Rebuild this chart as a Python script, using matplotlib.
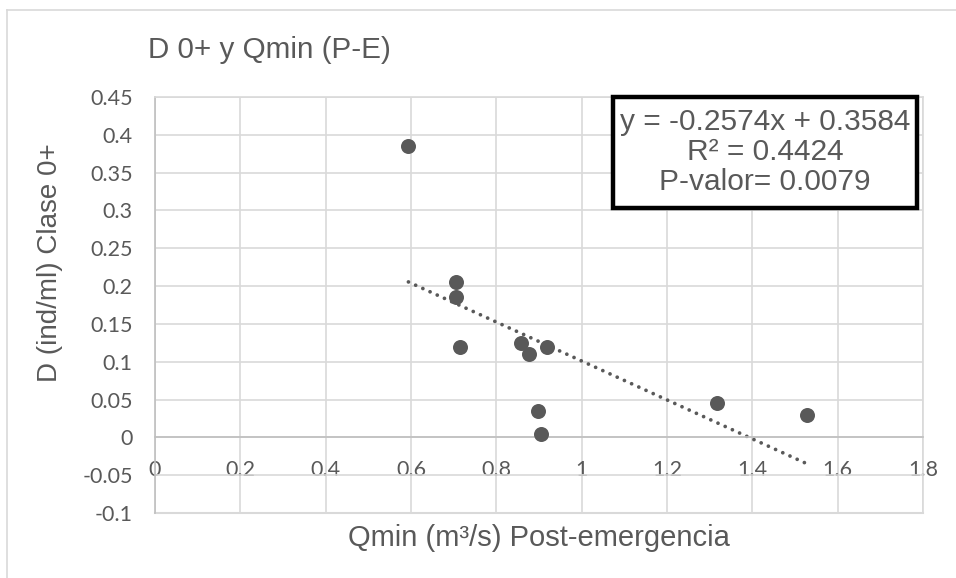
import matplotlib
matplotlib.use("Agg")
import matplotlib.pyplot as plt
from matplotlib import font_manager
from matplotlib.patches import Rectangle
import numpy as np

# Data: minimum post-emergence flow vs. density of class 0+
qmin = [0.594, 0.705, 0.705, 0.715, 0.858, 0.876, 0.918, 0.898, 0.905, 1.317, 1.527]
dens = [0.385, 0.205, 0.185, 0.120, 0.125, 0.110, 0.120, 0.035, 0.005, 0.045, 0.030]

# Linear trend as reported
slope = -0.2574
intercept = 0.3584
r2 = 0.4424
p_value = 0.0079

x_ticks = [0, 0.2, 0.4, 0.6, 0.8, 1, 1.2, 1.4, 1.6, 1.8]
y_ticks = [-0.1, -0.05, 0, 0.05, 0.1, 0.15, 0.2, 0.25, 0.3, 0.35, 0.4, 0.45]


def pick(names):
    for n in names:
        try:
            font_manager.findfont(n, fallback_to_default=False)
            return n
        except Exception:
            continue
    return "DejaVu Sans"


narrow = pick(["Liberation Sans Narrow", "Liberation Sans"])
tickfont = pick(["Lato", "Open Sans", "Liberation Sans"])
arial = pick(["Liberation Sans", "Arial", "DejaVu Sans"])

W, H = 956, 578
fig = plt.figure(figsize=(W / 100, H / 100), dpi=100)

# chart frame (top and left edges visible)
fig.add_artist(plt.Line2D([7 / W, 1], [1 - 9.5 / H, 1 - 9.5 / H], color="#d9d9d9", lw=1.2))
fig.add_artist(plt.Line2D([7 / W, 7 / W], [0, 1 - 9.5 / H], color="#d9d9d9", lw=1.2))

L, R, T, B = 155, 923, 97, 513
ax = fig.add_axes([L / W, 1 - B / H, (R - L) / W, (B - T) / H])
ax.set_xlim(0, 1.8)
ax.set_ylim(-0.1, 0.45)
ax.set_xticks(x_ticks)
ax.set_yticks(y_ticks)
ax.set_xticklabels([f"{v:g}" for v in x_ticks])
ax.set_yticklabels([f"{v:g}" for v in y_ticks])

grid_c = "#d9d9d9"
ax.grid(True, color=grid_c, lw=1.2, zorder=0)
for s in ("top", "right"):
    ax.spines[s].set_color(grid_c)
    ax.spines[s].set_linewidth(1.2)
ax.spines["bottom"].set_position(("data", 0))
ax.spines["bottom"].set_color("#bfbfbf")
ax.spines["bottom"].set_linewidth(1.2)
ax.spines["left"].set_color("#bfbfbf")
ax.spines["left"].set_linewidth(1.2)
ax.axhline(-0.1, color=grid_c, lw=1.5, clip_on=False, zorder=0)

ax.tick_params(axis="both", length=0, labelsize=15.5, labelcolor="#595959")
ax.tick_params(axis="x", pad=16)
ax.tick_params(axis="y", pad=16)
for lab in ax.get_xticklabels() + ax.get_yticklabels():
    lab.set_family(tickfont)

ax.plot(qmin, dens, "o", color="#595959", ms=10.8, mew=0, zorder=3)

xs = np.array([min(qmin), max(qmin)])
ax.plot(xs, slope * xs + intercept, color="#595959", lw=2.7,
        linestyle=(0, (0.01, 2.1)), dash_capstyle="round", zorder=2)

# statistics box
fig.add_artist(Rectangle((613 / W, 1 - 208 / H), (917 - 613) / W, (208 - 97) / H,
                         transform=fig.transFigure, facecolor="white",
                         edgecolor="black", lw=3.2, zorder=5))
stats = f"y = {slope:.4f}x + {intercept:.4f}\nR\u00b2 = {r2:.4f}\nP-valor= {p_value:.4f}"
fig.text(765 / W, 1 - 152 / H, stats, ha="center", va="center", family=arial,
         fontsize=21.5, color="#595959", linespacing=1.1, zorder=6)

fig.text(148 / W, 1 - 50 / H, "D 0+ y Qmin (P-E)", ha="left", va="center",
         family=narrow, fontsize=21.3, color="#595959")
fig.text(539 / W, 1 - 538 / H, "Qmin (m\u00b3/s) Post-emergencia", ha="center", va="center",
         family=narrow, fontsize=21, color="#595959")
fig.text(50 / W, 1 - 263 / H, "D (ind/ml) Clase 0+", ha="center", va="center",
         rotation=90, family=narrow, fontsize=20, color="#595959")

fig.savefig("out.png", dpi=100)
